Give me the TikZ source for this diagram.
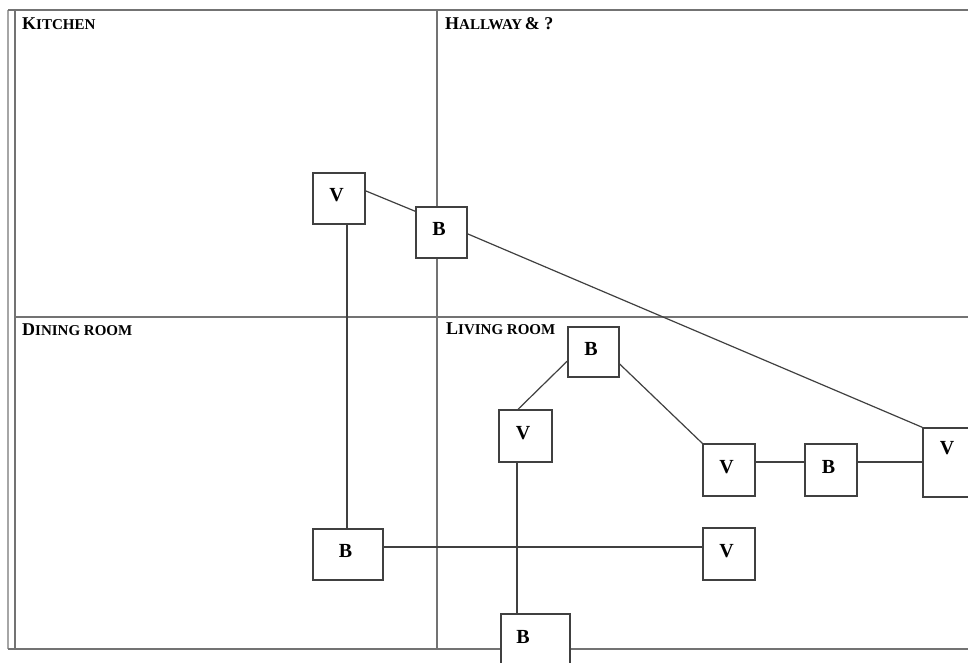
\documentclass[tikz,border=0pt]{standalone}
\usepackage{fontspec}
\setmainfont{Liberation Serif}
\usetikzlibrary{calc}
\newcommand{\bigc}[1]{{\fontsize{18}{20}\selectfont #1}}
\newcommand{\smallc}[1]{{\fontsize{15}{17}\selectfont #1}}
\tikzset{
  box/.style={draw=black!75, line width=1.3pt, fill=white, inner sep=0pt,
    font=\bfseries\fontsize{20}{20}\selectfont, text height=13pt, text depth=7pt,
    execute at end node={\hspace*{5pt}}},
  conn/.style={draw=black!75, line width=1.2pt},
  wall/.style={draw=black!55, line width=1.5pt},
  outerwall/.style={draw=black!35, line width=1.5pt},
  room/.style={anchor=base west, inner sep=0pt, font=\bfseries}
}
\begin{document}
\begin{tikzpicture}[x=1pt,y=-1pt]
\useasboundingbox (0,0) rectangle (968,663);
\fill[white] (0,0) rectangle (968,663);
% walls
\draw[outerwall] (8,10) -- (8,649);
\draw[wall] (8,10) -- (968,10);
\draw[wall] (15,10) -- (15,649);
\draw[wall] (8,649) -- (968,649);
\draw[wall] (437,10) -- (437,649);
\draw[wall] (15,317) -- (968,317);
% room labels
\node[room] (kitchen) at (22,30) {\bigc{K}\smallc{ITCHEN}};
\node[room] (hall) at (445,30) {\bigc{H}\smallc{ALLWAY} \bigc{\& ?}};
\node[room] (dining) at (22,335) {\bigc{D}\smallc{INING ROOM}};
\node[room] (living) at (446,334) {\bigc{L}\smallc{IVING ROOM}};
% boxes
\node[box, minimum width=52pt, minimum height=51pt] (v1) at (339,198.5) {V};
\node[box, minimum width=51pt, minimum height=51pt] (b1) at (441.5,232.5) {B};
\node[box, minimum width=51pt, minimum height=50pt] (b2) at (593.5,352) {B};
\node[box, minimum width=53pt, minimum height=52pt] (v2) at (525.5,436) {V};
\node[box, minimum width=52pt, minimum height=52pt] (v3) at (729,470) {V};
\node[box, minimum width=52pt, minimum height=52pt] (b3) at (831,470) {B};
\node[box, minimum width=53pt, minimum height=69pt, text depth=29pt] (v4) at (949.5,462.5) {V};
\node[box, minimum width=70pt, minimum height=51pt] (b4) at (348,554.5) {B};
\node[box, minimum width=52pt, minimum height=52pt] (v5) at (729,554) {V};
\node[box, minimum width=69pt, minimum height=70pt, text depth=24pt] (b5) at (535.5,649) {B\hspace*{20pt}};
% connectors
\draw[conn] (v1.16) -- (b1.141);
\draw[conn] (b1.-3) -- (v4.north west);
\draw[conn] (b4.north -| 347,0) -- (v1.south -| 347,0);
\draw[conn] ([yshift=7.5pt]b4.east) -- ([yshift=7.5pt]b4.east -| v5.west);
\draw[conn] ([yshift=-9pt]b2.west) -- ([xshift=-7.5pt]v2.north);
\draw[conn] ([yshift=-12pt]b2.east) -- (v3.north west);
\draw[conn] ([yshift=8pt]v3.east) -- ([yshift=8pt]v3.east -| b3.west);
\draw[conn] ([yshift=8pt]b3.east) -- ([yshift=8pt]b3.east -| v4.west);
\draw[conn] ([xshift=-8.5pt]v2.south) -- ([xshift=-8.5pt]v2.south |- b5.north);
\end{tikzpicture}
\end{document}
